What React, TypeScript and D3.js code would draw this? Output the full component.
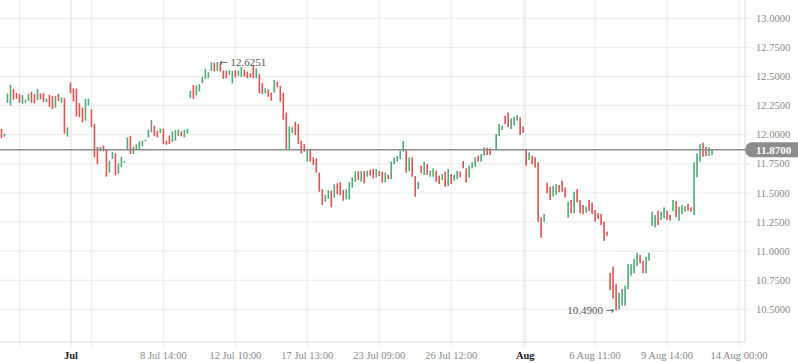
import React, { useEffect } from "react";
import { scaleLinear, range, format } from "d3";

// bars: [low, high, direction] — 1 up, -1 down, 0 flat
const bars: [number, number, number][] = [
  [12.009, 12.077, -1], [11.969, 12.049, -1], [11.983, 12.009, 1], [12.274, 12.354, 1],
  [12.251, 12.429, 1], [12.3, 12.394, -1], [12.31, 12.36, -1], [12.274, 12.351, -1],
  [12.266, 12.34, 1], [12.274, 12.3, 1], [12.289, 12.351, 1], [12.274, 12.369, -1],
  [12.269, 12.349, -1], [12.297, 12.394, 1], [12.303, 12.354, -1], [12.28, 12.357, -1],
  [12.28, 12.311, 1], [12.24, 12.343, -1], [12.22, 12.334, -1], [12.231, 12.334, 1],
  [12.289, 12.351, -1], [12.274, 12.32, 1], [12.009, 12.314, -1], [11.983, 12.063, 1],
  [12.357, 12.449, -1], [12.286, 12.397, -1], [12.157, 12.397, -1], [12.151, 12.271, -1],
  [12.106, 12.234, -1], [12.12, 12.309, 1], [12.251, 12.309, 1], [12.066, 12.217, -1],
  [11.806, 12.094, -1], [11.746, 11.894, -1], [11.857, 11.894, 1], [11.857, 11.906, -1],
  [11.64, 11.869, -1], [11.674, 11.777, 1], [11.791, 11.851, 1], [11.651, 11.84, -1],
  [11.666, 11.754, 1], [11.72, 11.811, 1], [11.76, 11.775, 1], [11.871, 11.977, 1],
  [11.834, 11.989, -1], [11.834, 11.897, 1], [11.871, 11.914, 1], [11.871, 11.943, 1],
  [11.9, 11.949, 1], [11.943, 11.957, 1], [11.977, 12.043, 1], [12.02, 12.126, 0],
  [11.986, 12.077, -1], [11.977, 12.034, -1], [12.014, 12.051, 1], [11.92, 12.051, -1],
  [11.914, 11.949, -1], [11.92, 11.994, -1], [11.937, 12.029, 1], [11.949, 12.04, 1],
  [11.989, 12.043, 1], [11.986, 12.029, -1], [11.977, 12.04, 1], [12.009, 12.051, 1],
  [12.314, 12.377, 1], [12.306, 12.426, -1], [12.337, 12.423, 1], [12.371, 12.434, 1],
  [12.443, 12.497, 1], [12.48, 12.566, 1], [12.486, 12.537, 1], [12.549, 12.623, 1],
  [12.543, 12.62, -1], [12.549, 12.6251, 1], [12.543, 12.615, -1], [12.48, 12.551, -1],
  [12.486, 12.549, -1], [12.514, 12.554, 1], [12.44, 12.549, 1], [12.491, 12.554, -1],
  [12.506, 12.549, 1], [12.497, 12.583, 1], [12.5, 12.557, -1], [12.486, 12.543, -1],
  [12.49, 12.527, -1], [12.485, 12.599, -1], [12.485, 12.57, 1], [12.356, 12.521, -1],
  [12.347, 12.442, -1], [12.356, 12.399, 1], [12.326, 12.39, -1], [12.292, 12.361, -1],
  [12.361, 12.47, 1], [12.407, 12.455, -1], [12.284, 12.418, -1], [12.126, 12.361, -1],
  [11.869, 12.189, -1], [11.869, 12.069, 1], [12.012, 12.064, 1], [11.997, 12.112, -1],
  [11.92, 12.092, -1], [11.84, 11.948, -1], [11.854, 11.92, -1], [11.768, 11.875, 1],
  [11.768, 11.875, -1], [11.74, 11.806, -1], [11.674, 11.797, -1], [11.51, 11.674, -1],
  [11.396, 11.531, -1], [11.425, 11.485, 1], [11.448, 11.525, 1], [11.376, 11.519, -1],
  [11.459, 11.574, 1], [11.488, 11.582, -1], [11.482, 11.591, -1], [11.433, 11.525, -1],
  [11.445, 11.531, 1], [11.445, 11.591, 1], [11.545, 11.634, 1], [11.596, 11.686, 1],
  [11.611, 11.686, -1], [11.596, 11.688, 1], [11.582, 11.686, -1], [11.639, 11.691, 1],
  [11.648, 11.699, -1], [11.625, 11.705, -1], [11.634, 11.705, 1], [11.645, 11.688, -1],
  [11.588, 11.682, -1], [11.591, 11.674, 1], [11.619, 11.654, -1], [11.619, 11.768, 1],
  [11.746, 11.806, 1], [11.768, 11.817, 1], [11.791, 11.863, 1], [11.854, 11.946, 1],
  [11.674, 11.877, -1], [11.688, 11.806, 1], [11.639, 11.806, -1], [11.467, 11.645, -1],
  [11.533, 11.596, 1], [11.668, 11.734, -1], [11.654, 11.768, 1], [11.654, 11.748, -1],
  [11.639, 11.691, 1], [11.639, 11.711, 1], [11.596, 11.691, -1], [11.576, 11.648, -1],
  [11.611, 11.662, 1], [11.553, 11.682, -1], [11.559, 11.705, 1], [11.576, 11.662, -1],
  [11.605, 11.654, 1], [11.619, 11.688, 1], [11.634, 11.682, -1], [11.711, 11.774, -1],
  [11.588, 11.711, -1], [11.631, 11.734, 1], [11.711, 11.763, 1], [11.725, 11.806, 1],
  [11.768, 11.82, -1], [11.768, 11.834, 1], [11.82, 11.892, 1], [11.826, 11.888, -1],
  [11.826, 11.883, -1], [11.869, 11.877, 1], [11.869, 12.006, 1], [11.989, 12.092, 1],
  [12.04, 12.075, 1], [12.092, 12.163, -1], [12.064, 12.192, -1], [12.049, 12.141, 1],
  [12.077, 12.155, 1], [12.12, 12.169, 1], [11.997, 12.149, -1], [12.017, 12.069, -1],
  [11.734, 11.877, -1], [11.783, 11.849, 1], [11.746, 11.82, -1], [11.717, 11.806, -1],
  [11.253, 11.763, -1], [11.115, 11.29, -1], [11.253, 11.319, 1], [11.497, 11.588, -1],
  [11.439, 11.553, -1], [11.467, 11.562, 1], [11.482, 11.576, 1], [11.505, 11.568, -1],
  [11.51, 11.605, -1], [11.462, 11.548, -1], [11.287, 11.424, 1], [11.325, 11.439, -1],
  [11.325, 11.51, 1], [11.419, 11.533, -1], [11.325, 11.439, -1], [11.316, 11.396, -1],
  [11.33, 11.381, 1], [11.345, 11.439, -1], [11.319, 11.419, -1], [11.253, 11.353, -1],
  [11.276, 11.325, -1], [11.224, 11.319, -1], [11.089, 11.253, -1], [11.132, 11.167, -1],
  [10.665, 10.814, -1], [10.594, 10.866, -1], [10.49, 10.717, -1], [10.495, 10.643, 1],
  [10.531, 10.674, 1], [10.531, 10.703, 1], [10.672, 10.889, 1], [10.789, 10.887, 1],
  [10.809, 10.932, 1], [10.872, 10.986, 1], [10.895, 10.967, -1], [10.809, 10.918, -1],
  [10.809, 10.952, 1], [10.918, 10.986, 1], [11.216, 11.338, 1], [11.204, 11.31, 1],
  [11.224, 11.347, -1], [11.267, 11.338, 1], [11.282, 11.376, 1], [11.267, 11.347, -1],
  [11.261, 11.311, -1], [11.345, 11.439, 1], [11.29, 11.43, -1], [11.261, 11.381, 1],
  [11.319, 11.396, 1], [11.338, 11.387, 1], [11.347, 11.405, -1], [11.338, 11.376, -1],
  [11.31, 11.763, 1], [11.634, 11.84, 1], [11.768, 11.92, 1], [11.811, 11.931, -1],
  [11.817, 11.897, -1], [11.817, 11.892, 1], [11.826, 11.87, 1],
];

const lastPrice = 11.87;

// regular date ticks (bar index) and their labels; empty ones are hidden by overlap
const tickIndex = [7, 31, 55, 79, 103, 127, 151, 175, 199, 223, 247];
const tickLabels = ["", "", "8 Jul 14:00", "12 Jul 10:00", "17 Jul 13:00", "23 Jul 09:00",
  "26 Jul 12:00", "", "6 Aug 11:00", "9 Aug 14:00", "14 Aug 00:00"];
const monthIndex = [24.2, 175.7];
const monthLabels = ["Jul", "Aug"];

const priceTicks = range(10.5, 13.001, 0.25);

const W = 798;
const H = 363;
const plotW = 745;
const plotH = 342;
const font = "'Liberation Serif', 'Times New Roman', serif";
const arrowFont = "'DejaVu Sans', sans-serif";
const up = "#52a878";
const down = "#e0524f";

const App = () => {
  useEffect(() => {
    document.body.style.margin = "0";
  }, []);

  const x = scaleLinear().domain([0.5, 249]).range([0, plotW]);
  const y = scaleLinear().domain([10.5, 13]).range([309.3, 18.3]);
  const fmt = format(".4f");

  let hiIdx = 0;
  let loIdx = 0;
  bars.forEach((b, i) => {
    if (b[1] > bars[hiIdx][1]) hiIdx = i;
    if (b[0] < bars[loIdx][0]) loIdx = i;
  });

  const py = y(lastPrice);

  return (
    <svg width={W} height={H} style={{ display: "block", background: "#fff" }} fontFamily={font}>
      {/* horizontal grid */}
      {priceTicks.map((t) => (
        <line key={"h" + t} x1={0} x2={plotW + 5} y1={y(t)} y2={y(t)} stroke="#eaecef" />
      ))}
      {/* vertical grid */}
      {tickIndex.map((t) => (
        <line key={"v" + t} x1={x(t)} x2={x(t)} y1={0} y2={plotH + 5} stroke="#eaecef" />
      ))}
      {monthIndex.map((t) => (
        <line key={"m" + t} x1={x(t)} x2={x(t)} y1={0} y2={plotH + 5} stroke="#dcdfe3" />
      ))}

      {/* axes */}
      <line x1={0} x2={plotW} y1={plotH} y2={plotH} stroke="#dcdcdc" />
      <line x1={plotW} x2={plotW} y1={0} y2={plotH} stroke="#dcdcdc" />

      {/* bars */}
      {bars.map((b, i) => (
        <rect
          key={i}
          x={x(i) - 0.8}
          width={1.6}
          y={y(b[1])}
          height={Math.max(1, y(b[0]) - y(b[1]))}
          fill={b[2] > 0 ? up : b[2] < 0 ? down : "#8a8a8a"}
        />
      ))}

      {/* last price line */}
      <line x1={0} x2={plotW} y1={py} y2={py} stroke="#8c8c8c" strokeWidth={1.5} />
      <path
        d={`M${plotW},${py} Q${plotW + 1},${py - 7.5} ${plotW + 7},${py - 7.5} L${W},${py - 7.5} L${W},${py + 7.5} L${plotW + 7},${py + 7.5} Q${plotW + 1},${py + 7.5} ${plotW},${py} Z`}
        fill="#8c8c8c"
      />

      {/* y labels */}
      {priceTicks.map((t) => (
        <text key={"yl" + t} x={756} y={y(t)} dy="0.35em" fontSize={10.5} fill="#8a8a8a">
          {fmt(t)}
        </text>
      ))}
      <text x={756} y={py} dy="0.35em" fontSize={11} fill="#fff" fontWeight="bold">
        {fmt(lastPrice)}
      </text>

      {/* x labels */}
      {tickIndex.map((t, i) =>
        tickLabels[i] ? (
          <text key={"xl" + t} x={x(t)} y={355} dy="0.35em" textAnchor="middle" fontSize={10.5} fill="#8a8a8a">
            {tickLabels[i]}
          </text>
        ) : null
      )}
      {monthIndex.map((t, i) => (
        <text key={"ml" + t} x={x(t)} y={355} dy="0.35em" textAnchor="middle" fontSize={10.5} fill="#222" fontWeight="bold">
          {monthLabels[i]}
        </text>
      ))}

      {/* extremes */}
      <text x={x(hiIdx) + 2} y={y(bars[hiIdx][1])} dy="0.35em" fontSize={11} fill="#555">
        <tspan fontFamily={arrowFont} fontSize={10}>{"\u2190"}</tspan>
        {" " + fmt(bars[hiIdx][1])}
      </text>
      <text x={x(loIdx) - 2} y={y(bars[loIdx][0])} dy="0.35em" fontSize={11} fill="#555" textAnchor="end">
        {fmt(bars[loIdx][0]) + " "}
        <tspan fontFamily={arrowFont} fontSize={10}>{"\u2192"}</tspan>
      </text>
    </svg>
  );
};

export default App;
